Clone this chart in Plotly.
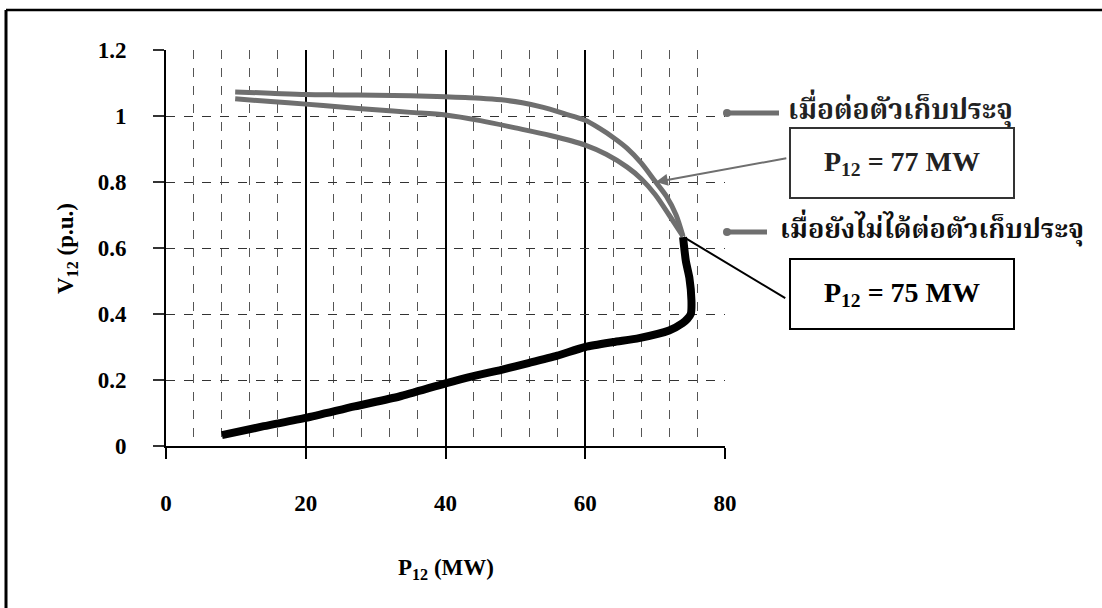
import plotly.graph_objects as go

# P-V curve data (P12 in MW, V12 in p.u.)
p_with_cap = [9.9, 15, 20, 25, 30, 35, 40, 45, 48, 51, 54, 57, 60, 62, 64, 66, 68, 70, 71.6, 73, 74.0]
v_with_cap = [1.073, 1.069, 1.065, 1.064, 1.063, 1.061, 1.058, 1.054, 1.049, 1.040, 1.026, 1.007, 0.987, 0.963, 0.935, 0.902, 0.858, 0.802, 0.757, 0.700, 0.635]

p_no_cap = [9.9, 15, 20, 25, 30, 35, 40, 45, 50, 55, 60, 63, 66, 68, 70, 72, 74.0]
v_no_cap = [1.052, 1.044, 1.036, 1.027, 1.019, 1.011, 1.003, 0.986, 0.964, 0.941, 0.912, 0.884, 0.845, 0.810, 0.762, 0.700, 0.635]

p_lower = [74.0, 74.4, 74.9, 75.2, 75.1, 74.6, 73.9, 72, 67.7, 64, 60, 56, 52, 48, 44, 40, 33.4, 27, 20, 14, 8]
v_lower = [0.633, 0.56, 0.51, 0.44, 0.40, 0.385, 0.372, 0.35, 0.327, 0.315, 0.30, 0.274, 0.252, 0.231, 0.212, 0.19, 0.15, 0.12, 0.085, 0.06, 0.033]

label_cap = "เมื่อต่อตัวเก็บประจุ"
label_no_cap = "เมื่อยังไม่ได้ต่อตัวเก็บประจุ"
box_cap = "P<sub>12</sub> = 77 MW"
box_no_cap = "P<sub>12</sub> = 75 MW"
max_cap = (70.1, 0.80)
max_no_cap = (74.1, 0.633)

GRAY = "#6f6f6f"
SERIF = "Liberation Serif, Times New Roman, serif"
THAI = "Noto Serif Thai, Noto Sans Thai Looped, Liberation Serif, Noto Sans Thai, Loma, Garuda, sans-serif"

fig = go.Figure()
fig.add_trace(go.Scatter(x=p_with_cap, y=v_with_cap, mode="lines",
                         line=dict(color=GRAY, width=5, shape="spline", smoothing=0.8), name=label_cap))
fig.add_trace(go.Scatter(x=p_no_cap, y=v_no_cap, mode="lines",
                         line=dict(color=GRAY, width=5, shape="spline", smoothing=0.8), name=label_no_cap))
fig.add_trace(go.Scatter(x=p_lower, y=v_lower, mode="lines",
                         line=dict(color="black", width=8, shape="spline", smoothing=0.6), name="lower branch"))

# plot-area geometry in pixels (for placing paper-referenced items)
L, R, T, B = 166, 725, 50, 446
W, H = R - L, B - T


def px(x):
    return (x - L) / W


def py(y):
    return (B - y) / H


shapes = [
    # outer frame (top and left edges; the rest runs off the page)
    dict(type="line", xref="paper", yref="paper",
         x0=px(6), x1=px(1130), y0=py(10), y1=py(10),
         line=dict(color="black", width=2.5), layer="below"),
    dict(type="line", xref="paper", yref="paper",
         x0=px(6), x1=px(6), y0=py(10), y1=py(640),
         line=dict(color="black", width=3), layer="below"),
    # legend keys
    dict(type="line", xref="paper", yref="paper", x0=px(727), x1=px(779), y0=py(113), y1=py(113),
         line=dict(color=GRAY, width=5)),
    dict(type="circle", xref="paper", yref="paper", x0=px(723), x1=px(731), y0=py(117), y1=py(109),
         line=dict(width=0), fillcolor=GRAY),
    dict(type="line", xref="paper", yref="paper", x0=px(727), x1=px(767), y0=py(232), y1=py(232),
         line=dict(color=GRAY, width=5)),
    dict(type="circle", xref="paper", yref="paper", x0=px(723), x1=px(731), y0=py(236), y1=py(228),
         line=dict(width=0), fillcolor=GRAY),
]

annotations = [
    dict(text="V<sub>12</sub> (p.u.)", xref="paper", yref="paper", x=px(67), y=py(249),
         xanchor="center", yanchor="middle",
         showarrow=False, textangle=-90, font=dict(family=SERIF, size=23, color="black", weight="bold")),
    dict(text="P<sub>12</sub> (MW)", xref="paper", yref="paper", x=0.5, y=py(569),
         xanchor="center", yanchor="middle",
         showarrow=False, font=dict(family=SERIF, size=23, color="black", weight="bold")),
    dict(text=label_cap, xref="paper", yref="paper", x=px(786), y=py(111),
         xanchor="left", yanchor="middle",
         showarrow=False, font=dict(family=THAI, size=28, color="#222", weight="bold")),
    dict(text=label_no_cap, xref="paper", yref="paper", x=px(778), y=py(230),
         xanchor="left", yanchor="middle",
         showarrow=False, font=dict(family=THAI, size=27, color="#111", weight="bold")),
    # value boxes
    dict(text=box_cap, xref="paper", yref="paper", x=px(902), y=py(163),
         xanchor="center", yanchor="middle",
         showarrow=False, width=220, height=66, borderpad=1, bordercolor="#333", borderwidth=2,
         bgcolor="white", font=dict(family=SERIF, size=28, color="#222", weight="bold")),
    dict(text=box_no_cap, xref="paper", yref="paper", x=px(902), y=py(294),
         xanchor="center", yanchor="middle",
         showarrow=False, width=220, height=66, borderpad=1, bordercolor="black", borderwidth=2,
         bgcolor="white", font=dict(family=SERIF, size=28, color="black", weight="bold")),
    # pointers from the boxes to the curves
    dict(text="", x=max_cap[0], y=max_cap[1], xref="x", yref="y", ax=132, ay=-24,
         showarrow=True, arrowhead=2, arrowsize=1.2, arrowwidth=2, arrowcolor=GRAY),
    dict(text="", x=max_no_cap[0], y=max_no_cap[1], xref="x", yref="y", ax=103, ay=62,
         showarrow=True, arrowhead=0, arrowwidth=2, arrowcolor="black"),
]

fig.update_layout(
    width=1102, height=608,
    margin=dict(l=L, r=1102 - R, t=T, b=608 - B),
    paper_bgcolor="white", plot_bgcolor="white",
    showlegend=False,
    shapes=shapes, annotations=annotations,
    xaxis=dict(range=[0, 80], dtick=20, tick0=0,
               showgrid=True, gridcolor="black", gridwidth=1.5,
               minor=dict(dtick=4, showgrid=True, gridcolor="#555", griddash="dash", gridwidth=1),
               showline=True, linecolor="black", linewidth=2,
               ticks="outside", ticklen=11, tickwidth=2, tickcolor="black",
               ticklabelstandoff=24, zeroline=False,
               tickfont=dict(family=SERIF, size=23, color="black", weight="bold")),
    yaxis=dict(range=[0, 1.2], dtick=0.2, tick0=0,
               showgrid=True, gridcolor="#333", griddash="dash", gridwidth=1.3,
               showline=True, linecolor="black", linewidth=2,
               ticks="outside", ticklen=11, tickwidth=1.5, tickcolor="#333",
               ticklabelstandoff=22, zeroline=False,
               tickfont=dict(family=SERIF, size=23, color="black", weight="bold")),
)

fig.write_html("out.html")
